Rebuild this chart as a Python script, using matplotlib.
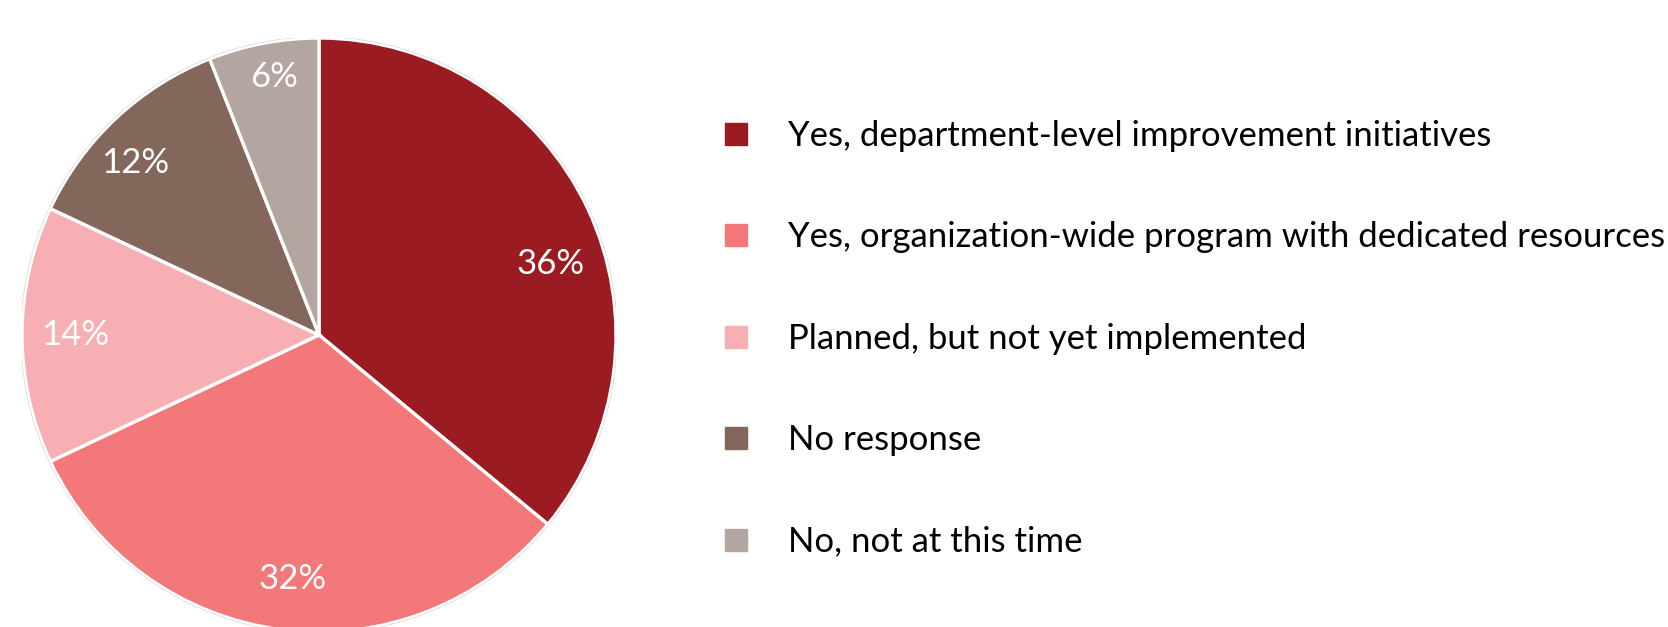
import matplotlib
matplotlib.use("Agg")
import matplotlib.pyplot as plt
from matplotlib.lines import Line2D
from matplotlib.patches import Circle

# данные с картинки
labels = [
    "Yes, department-level improvement initiatives",
    "Yes, organization-wide program with dedicated resources",
    "Planned, but not yet implemented",
    "No response",
    "No, not at this time",
]
shares = [36, 32, 14, 12, 6]
colors = ["#9A1B21", "#F2787A", "#F7AFB4", "#83675B", "#B3A5A0"]

plt.rcParams["font.family"] = ["Lato", "DejaVu Sans"]

fig = plt.figure(figsize=(16.68, 6.27), dpi=100)
ax = fig.add_axes([22 / 1668, -5 / 627, 594 / 1668, 594 / 627])

wedges, texts, autotexts = ax.pie(
    shares, colors=colors, startangle=90, counterclock=False,
    autopct="%d%%", pctdistance=0.82,
    wedgeprops=dict(edgecolor="white", linewidth=2.4),
    textprops=dict(color="white", fontsize=25),
)
ax.add_patch(Circle((0, 0), 1.004, fill=False, edgecolor="#dddddd", linewidth=0.6))
ax.set_xlim(-1.0, 1.0)
ax.set_ylim(-1.0, 1.0)
ax.set_aspect("equal")

# подписи сдвинуты вручную, как на оригинале
autotexts[0].set_position((0.78, 0.24))
autotexts[1].set_position((-0.09, -0.82))
autotexts[3].set_position((-0.62, 0.58))
autotexts[4].set_position((-0.15, 0.87))

handles = [Line2D([], [], marker="s", linestyle="none", markersize=16,
                  markerfacecolor=c, markeredgecolor=c) for c in colors]
fig.legend(handles, labels, loc="center left", bbox_to_anchor=(706 / 1668, 0.4597),
           frameon=False, fontsize=25, labelspacing=2.0, handletextpad=1.07,
           handlelength=0.9, borderaxespad=0)

fig.savefig("out.png", dpi=100)
